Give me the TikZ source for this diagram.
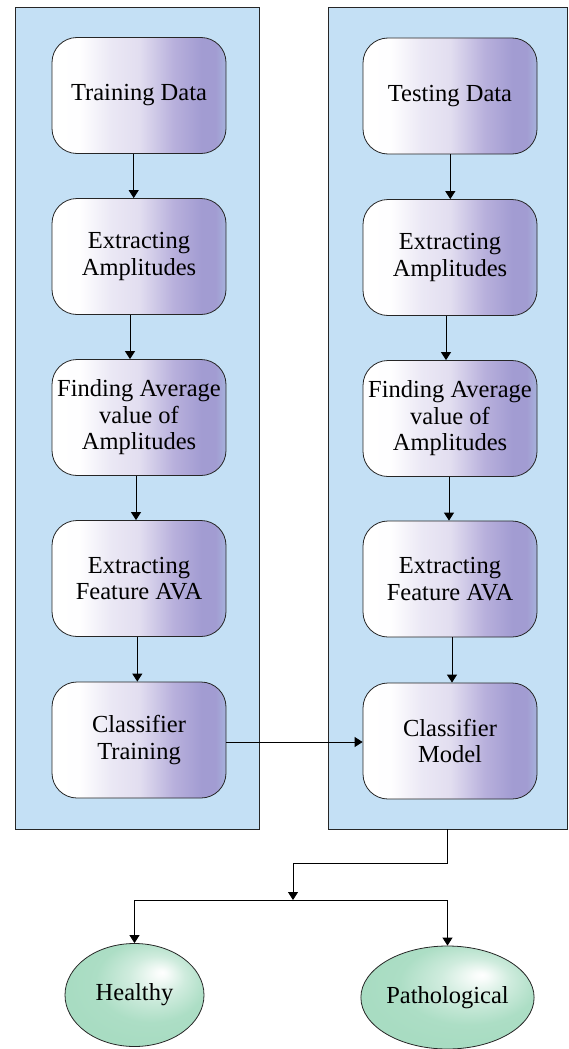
\documentclass[tikz,border=0pt]{standalone}
\usepackage{fontspec}
\setmainfont{Liberation Serif}
\usetikzlibrary{arrows.meta,shapes.geometric}
\definecolor{panelblue}{RGB}{196,224,245}
\definecolor{boxpurple}{RGB}{162,156,210}
\definecolor{boxlav}{RGB}{226,222,240}
\definecolor{boxmid}{RGB}{184,176,220}
\definecolor{boxblue}{RGB}{166,178,220}
\definecolor{mint}{RGB}{168,220,194}
\pgfdeclarehorizontalshading{boxshade}{100bp}{%
  color(0bp)=(white); color(25bp)=(white); color(33bp)=(white!97!boxlav);
  color(42bp)=(boxlav!70!white); color(50bp)=(boxlav);
  color(60bp)=(boxmid); color(68bp)=(boxpurple); color(72bp)=(boxpurple);
  color(75bp)=(boxblue); color(100bp)=(boxblue)}
\pgfdeclareradialshading{mintball}{\pgfpoint{10bp}{11bp}}{%
  color(0bp)=(white); color(2bp)=(white!92!mint); color(10bp)=(mint!55!white);
  color(20bp)=(mint!95!white); color(28bp)=(mint); color(50bp)=(mint)}
\tikzset{
  panel/.style={draw=black!85, line width=0.8pt, fill=panelblue},
  stepbox/.style={draw=black!85, line width=0.8pt, rounded corners=25pt,
    minimum width=174pt, minimum height=116pt, shading=boxshade,
    align=center, font=\fontsize{24.5}{26.5}\selectfont, inner sep=2pt},
  outcome/.style={ellipse, draw=black!85, line width=0.8pt, shading=mintball,
    minimum width=139pt, minimum height=103pt, inner sep=0pt,
    font=\fontsize{24.5}{26.5}\selectfont},
  arr/.style={draw=black, line width=0.9pt, -{Triangle[length=8pt,width=10pt]}},
  ln/.style={draw=black, line width=0.9pt}
}
\begin{document}
\begin{tikzpicture}[x=1pt,y=-1pt]
\useasboundingbox (0,0) rectangle (568,1049);
\fill[white] (0,0) rectangle (568,1049);
% panels
\path[panel] (15,7) rectangle (259,829);
\path[panel] (328,7) rectangle (567.5,829);
% left column
\node[stepbox] (l1) at (139,95.5) {Training Data};
\node[stepbox] (l2) at (139,256.5) {Extracting\\Amplitudes};
\node[stepbox] (l3) at (139,417.5) {Finding Average\\value of\\Amplitudes};
\node[stepbox] (l4) at (139,578.5) {Extracting\\Feature AVA};
\node[stepbox] (l5) at (139,740) {Classifier\\Training};
% right column
\node[stepbox] (r1) at (450,96) {Testing Data};
\node[stepbox] (r2) at (450,257.5) {Extracting\\Amplitudes};
\node[stepbox] (r3) at (450,418.5) {Finding Average\\value of\\Amplitudes};
\node[stepbox] (r4) at (450,579) {Extracting\\Feature AVA};
\node[stepbox] (r5) at (450,741) {Classifier\\Model};
% arrows
\draw[arr] ([xshift=-5.3pt]l1.south) -- ([xshift=-5.3pt]l2.north);
\draw[arr] ([xshift=-9pt]l2.south) -- ([xshift=-9pt]l3.north);
\draw[arr] ([xshift=-3pt]l3.south) -- ([xshift=-3pt]l4.north);
\draw[arr] ([xshift=-1.7pt]l4.south) -- ([xshift=-1.7pt]l5.north);
\draw[arr] ([xshift=0.3pt]r1.south) -- ([xshift=0.3pt]r2.north);
\draw[arr] ([xshift=-4pt]r2.south) -- ([xshift=-4pt]r3.north);
\draw[arr] ([xshift=-1pt]r3.south) -- ([xshift=-1pt]r4.north);
\draw[arr] ([xshift=2pt]r4.south) -- ([xshift=2pt]r5.north);
\draw[arr] ([yshift=-2pt]l5.east) -- ([yshift=-2pt]l5.east -| r5.west);
% outputs
\node[outcome] (h) at (134.5,995) {Healthy};
\node[outcome] (p) at (447.5,997.5) {Pathological};
\coordinate (pb) at (447,829);
\coordinate (j1) at (447,863);
\coordinate (j2) at (293,863);
\coordinate (split) at (293,900);
\draw[ln] (pb) -- (j1) -- (j2);
\draw[arr] (j2) -- (split);
\draw[arr] (split) -| (h.north);
\draw[arr] (split) -| (p.north);
\end{tikzpicture}
\end{document}
